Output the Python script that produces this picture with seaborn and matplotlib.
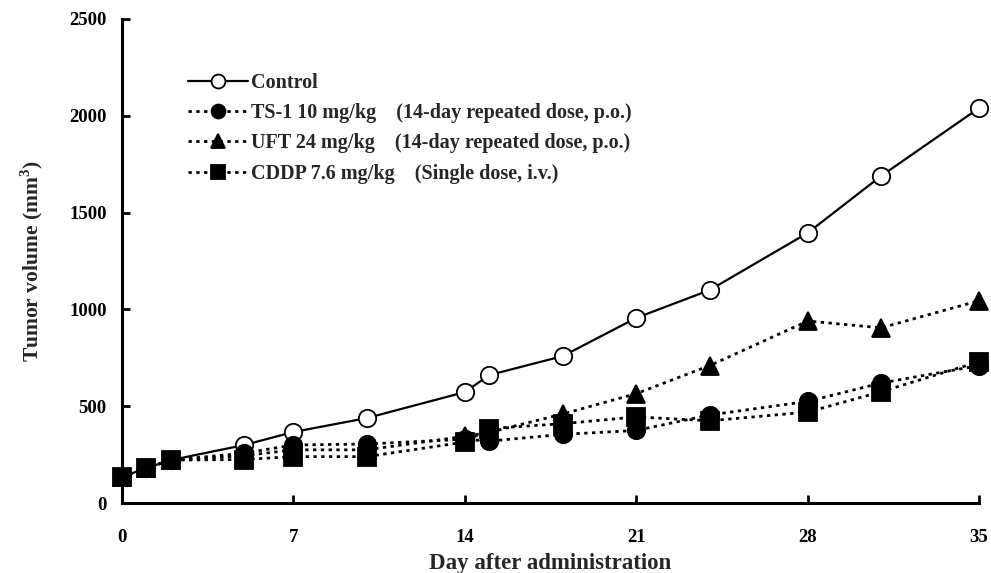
import numpy as np
import pandas as pd
import matplotlib
matplotlib.use("Agg")
import matplotlib.pyplot as plt
import seaborn as sns

days = [0, 1, 2, 5, 7, 10, 14, 15, 18, 21, 24, 28, 31, 35]
control = [135, 181, 222, 300, 367, 439, 573, 661, 759, 956, 1100, 1395, 1689, 2040]
ts1 = [135, 181, 222, 258, 300, 305, 330, 320, 355, 375, 455, 525, 620, 710]
uft = [135, 181, 222, 245, 275, 275, 345, 365, 460, 565, 710, 940, 905, 1045]
cddp = [135, 181, 222, 225, 240, 240, 315, 385, 410, 445, 425, 470, 575, 730]

labels = ["Control",
          "TS-1 10 mg/kg    (14-day repeated dose, p.o.)",
          "UFT 24 mg/kg    (14-day repeated dose, p.o.)",
          "CDDP 7.6 mg/kg    (Single dose, i.v.)"]
xticks = [0, 7, 14, 21, 28, 35]
yticks = [0, 500, 1000, 1500, 2000, 2500]

sns.set_theme(style="white")
plt.rcParams['font.family'] = ['Liberation Serif', 'DejaVu Serif']
plt.rcParams['font.weight'] = 'bold'
plt.rcParams['mathtext.fontset'] = 'custom'
plt.rcParams['mathtext.rm'] = 'Liberation Serif:bold'
plt.rcParams['mathtext.bf'] = 'Liberation Serif:bold'

fig = plt.figure(figsize=(9.91, 5.73), dpi=100)
ax = fig.add_axes([0.123, 0.122, 0.865, 0.845])

series = [control, ts1, uft, cddp]
markers = ["o", "o", "^", "s"]
faces = ["white", "black", "black", "black"]
styles = ["-", (0, (1.2, 1.6)), (0, (1.2, 1.6)), (0, (1.2, 1.6))]
msizes = [12.5, 12.5, 13.5, 12.5]

for vals, lab, mk, fc, ls, ms in zip(series, labels, markers, faces, styles, msizes):
    df = pd.DataFrame({"day": days, "vol": vals})
    sns.lineplot(data=df, x="day", y="vol", ax=ax, color="black", linestyle=ls,
                 linewidth=1.6 if ls == "-" else 2.0, marker=mk, markersize=ms,
                 markerfacecolor=fc, markeredgecolor="black", markeredgewidth=1.3,
                 label=lab, clip_on=False, zorder=3)

ax.set_xlim(0, 35)
ax.set_ylim(0, 2500)
ax.set_xticks(xticks)
ax.set_yticks(yticks)
ax.set_xticklabels([str(t) for t in xticks], fontsize=13.5, fontweight='bold')
ax.set_yticklabels([str(t) for t in yticks], fontsize=13.5, fontweight='bold')
for s in ["top", "right"]:
    ax.spines[s].set_visible(False)
for s in ["left", "bottom"]:
    ax.spines[s].set_color("black")
    ax.spines[s].set_linewidth(2.2)
ax.tick_params(axis='both', direction='in', length=6, width=2, colors='black',
               left=True, bottom=True)
ax.tick_params(axis='x', pad=19)
ax.tick_params(axis='y', pad=11)

ax.set_xlabel("Day after administration", fontsize=16.5, fontweight='bold', labelpad=5)
ax.set_ylabel("Tumor volume (mm$^{3}$)", fontsize=15.5, fontweight='bold', labelpad=2)
ax.yaxis.set_label_coords(-0.09, 0.5)

leg = ax.legend(loc="upper left", bbox_to_anchor=(0.056, 0.925), frameon=False,
                handlelength=3.0, handletextpad=0.15, labelspacing=0.5,
                prop={'weight': 'bold', 'size': 14.5})
for h in leg.legend_handles:
    h.set_markersize(10)

fig.savefig("out.png", dpi=100)
